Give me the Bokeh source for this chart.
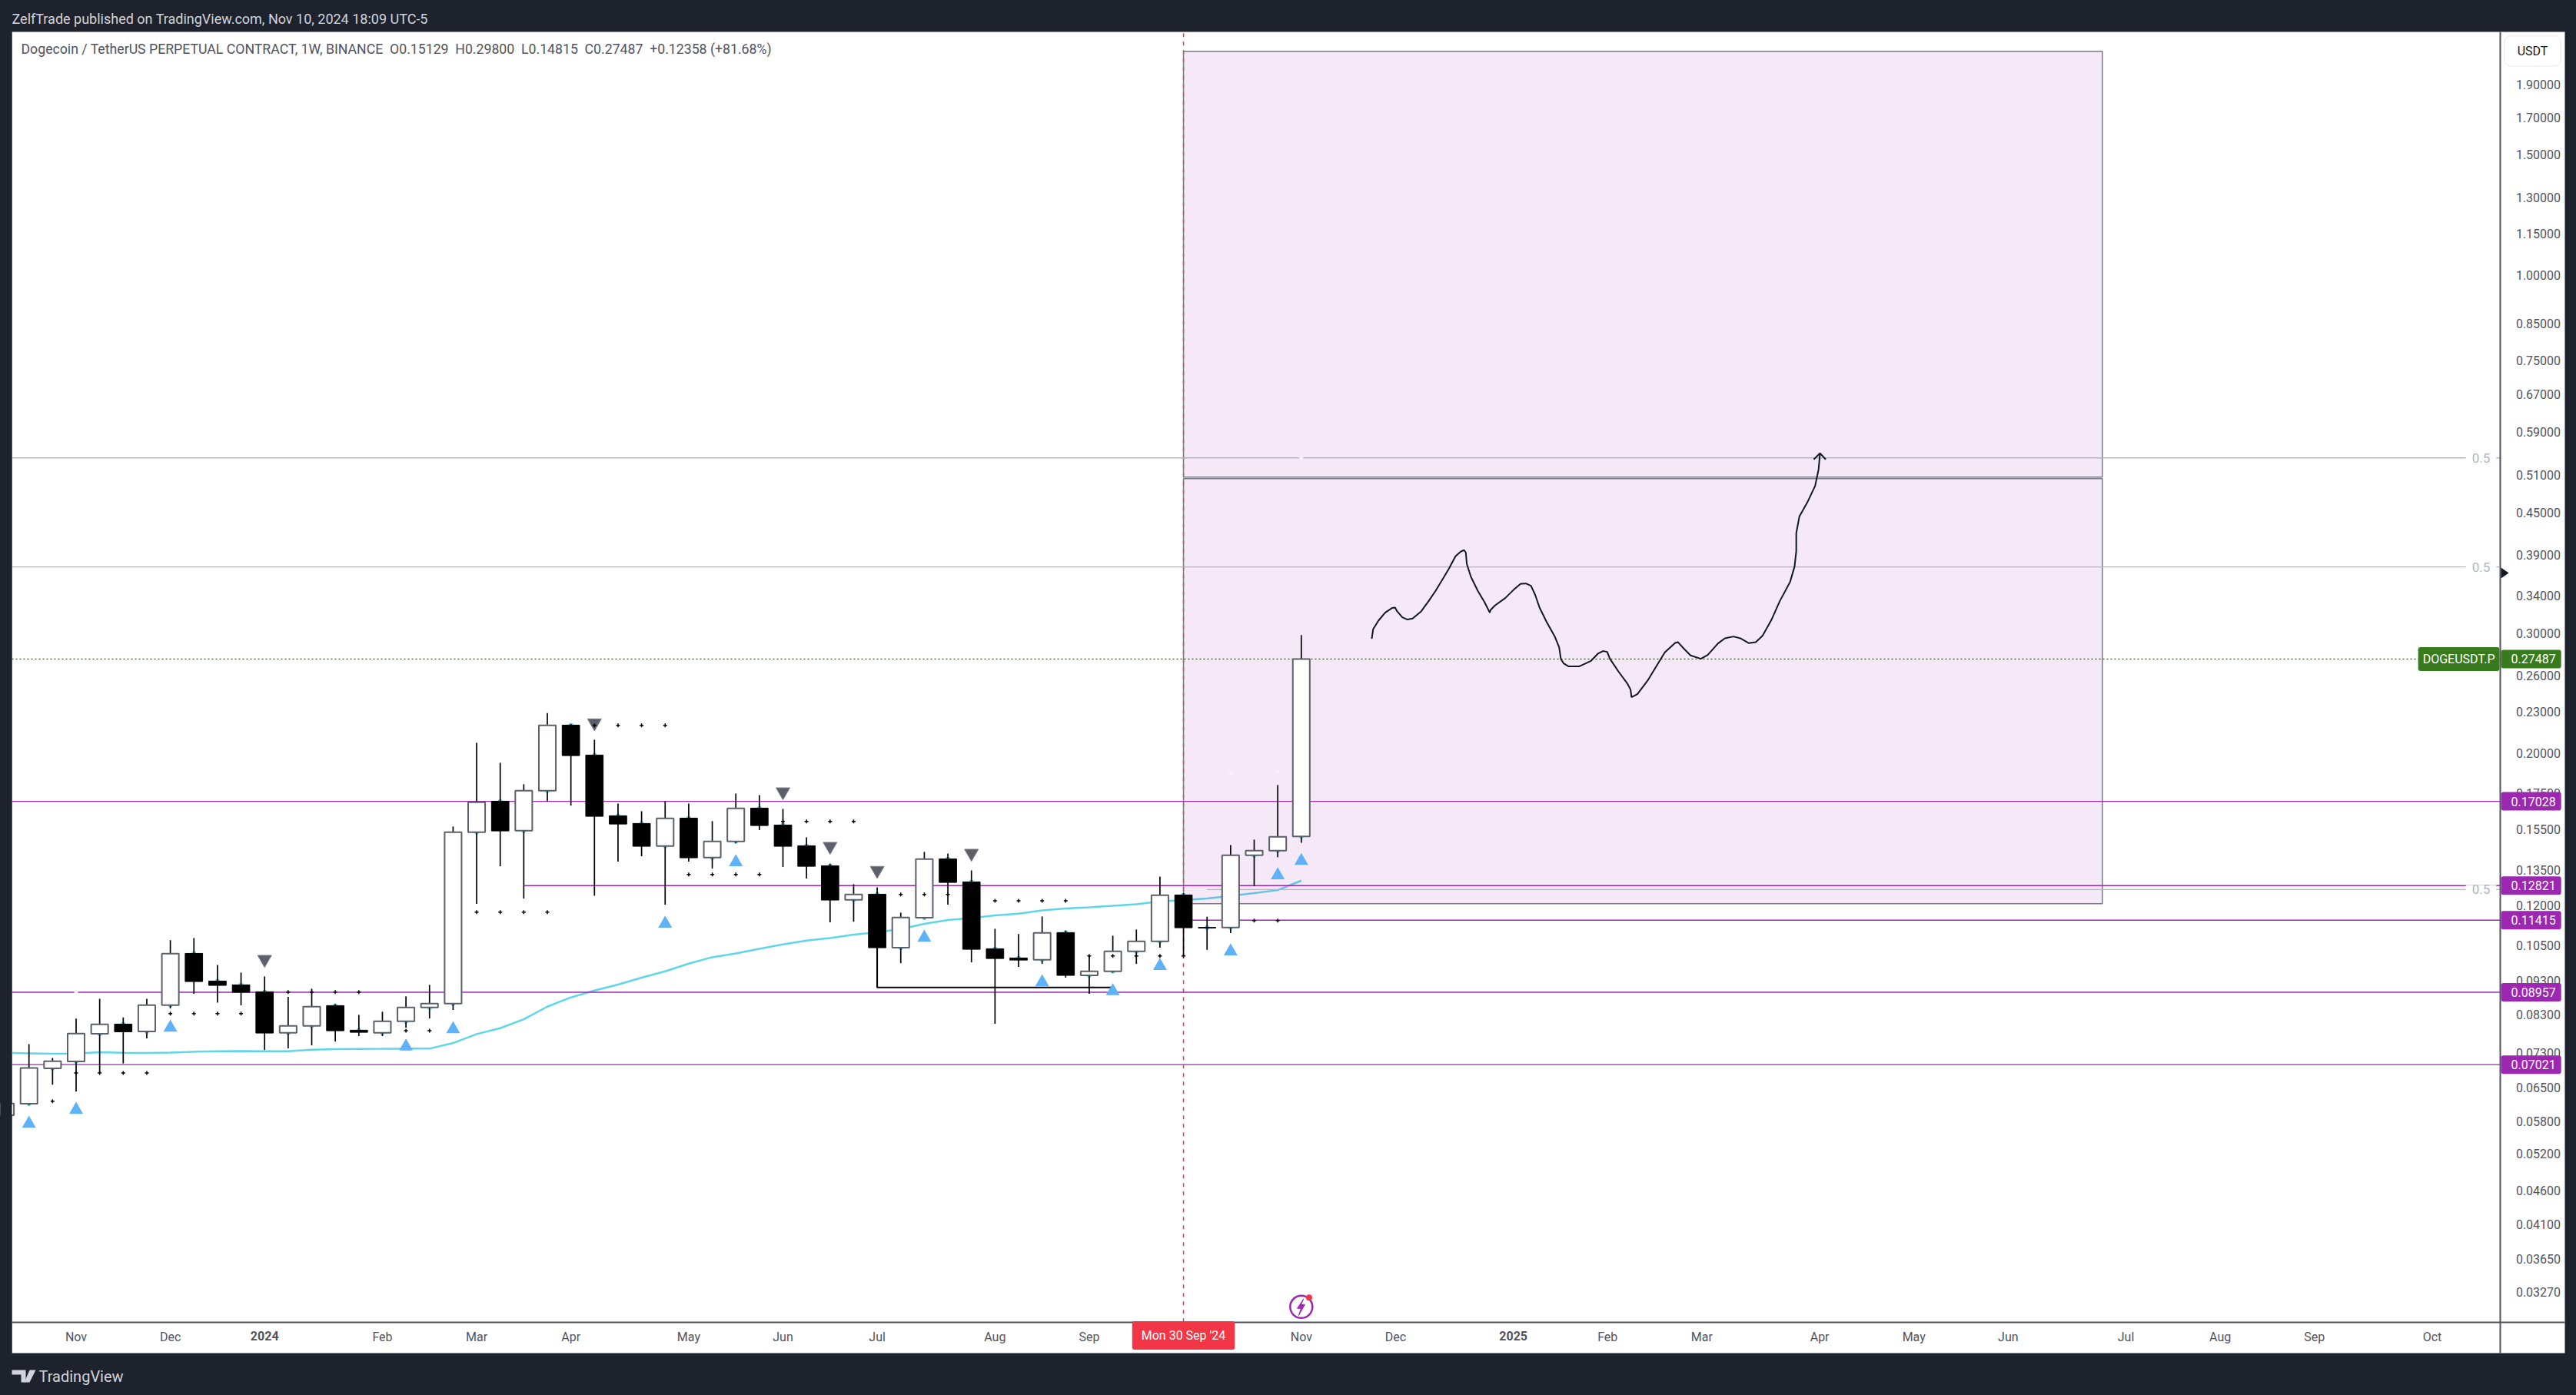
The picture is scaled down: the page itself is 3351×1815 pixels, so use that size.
from bokeh.embed import file_html
from bokeh.resources import INLINE
from bokeh.plotting import figure
from bokeh.models import (Range1d, FixedTicker, PrintfTickFormatter, Label, BoxAnnotation,
                          PolyAnnotation, GlobalInlineStyleSheet)

# ---------- data ----------
week = list(range(-1, 55))
opens = [.0592,.06156,.06932,.07096,.07788,.08047,.07849,.08578,.10208,.09301,.09182,.08971,.07815,.07999,.08563,.07883,.07815,.08124,.08511,.08622,.15347,.17035,.15427,.17648,.22006,.19896,.16220,.15805,.14650,.16093,.14093,.14880,.16643,.15723,.14663,.13709,.12224,.12458,.10404,.11508,.14031,.12985,.10368,.10052,.09990,.10949,.09480,.09610,.10279,.10631,.12426,.1114,.11139,.14203,.14426,.15129]
highs = [.0616,.07524,.07182,.08195,.08764,.08230,.08764,.10669,.10751,.09820,.09569,.09447,.08817,.09064,.08607,.08301,.08388,.08833,.09182,.15642,.20733,.19387,.18033,.22917,.22083,.20950,.16905,.16473,.17021,.16905,.15927,.17480,.17392,.16600,.15084,.13804,.12884,.12751,.11709,.14363,.14289,.13497,.11090,.10892,.11559,.11023,.10138,.10835,.11062,.13222,.12501,.11549,.14699,.14969,.17986,.29800]
lows = [.0592,.06129,.06561,.06410,.06825,.07053,.07669,.08482,.08910,.08652,.08570,.07376,.07414,.07491,.07589,.07728,.07728,.07951,.08202,.08439,.12057,.13685,.12277,.17021,.16788,.12393,.13899,.14154,.12026,.13899,.13578,.14788,.15455,.13651,.13131,.11332,.11358,.09103,.09879,.11468,.12026,.09905,.08054,.09753,.09854,.09407,.08910,.09569,.09854,.10404,.10121,.10332,.10929,.12806,.14109,.14815]
closes = [.0616,.06944,.07102,.07795,.08040,.07842,.08578,.10200,.09286,.09167,.08956,.07808,.07999,.08533,.07869,.07828,.08124,.08511,.08622,.15347,.16978,.15415,.17648,.21988,.19861,.16190,.15776,.14638,.16079,.14081,.14880,.16629,.15696,.14638,.13685,.12214,.12447,.10404,.11518,.14019,.12962,.10350,.10034,.09982,.10938,.09480,.09610,.10279,.10631,.12415,.11128,.1112,.14203,.14426,.15111,.27487]

ema_week = list(range(-1, 55))
ema = [.07306,.07294,.07281,.07287,.07319,.07306,.07300,.07313,.07332,.07344,.07351,.07344,.07344,.07383,.07395,.07402,.07405,.07409,.07409,.07550,.07782,.07937,.08178,.08533,.08803,.09010,.09191,.09407,.09610,.09862,.10078,.10208,.10368,.10522,.10659,.10751,.10873,.10960,.11082,.11274,.11419,.11498,.11597,.11668,.11800,.11872,.11923,.11984,.12045,.12161,.12214,.12277,.12383,.12501,.12630,.13041]

up_week = [0,2,6,16,18,27,30,38,43,46,48,51,53,54]
up_price = [.05756,.06031,.07952,.07461,.07911,.11282,.13877,.10762,.09264,.08988,.09788,.10281,.13281,.13937]
down_week = [10,24,32,34,36,40]
down_price = [.10006,.22172,.17582,.14634,.13496,.14298]

dot_week = [1,2,3,4,5,6,7,8,9,11,12,13,14,16,17,19,20,21,22,24,25,26,27,28,29,30,31,32,33,34,35,36,37,38,39,41,42,43,44,45,46,47,48,49,52,53]
dot_price = [.06208,.06825,.06825,.06825,.06825,.08337,.08337,.08337,.08337,.08963,.08963,.08963,.08963,.07869,.07869,.11729,.11729,.11729,.11729,.21988,.21988,.21988,.21988,.13313,.13313,.13313,.13313,.15913,.15913,.15913,.15913,.12447,.12447,.12447,.12447,.12182,.12182,.12182,.12182,.10121,.10121,.10121,.10121,.10121,.11401,.11401]

pale_week = [2,51,53,54]
pale_price = [.08957,.18730,.18828,.54079]

drawn_week = [56.990,57.048,57.267,57.558,57.849,57.980,58.068,58.286,58.505,58.723,59.087,59.379,59.699,59.961,60.253,60.544,60.762,60.908,60.981,61.025,61.199,61.491,61.782,62.000,62.030,62.219,62.656,63.020,63.311,63.530,63.748,63.923,64.112,64.404,64.768,64.943,65.015,65.132,65.351,65.788,66.297,66.589,66.807,66.982,67.098,67.462,67.827,67.973,68.016,68.264,68.700,69.065,69.429,69.866,69.982,70.230,70.521,70.958,71.250,71.686,71.978,72.342,72.633,72.998,73.289,73.580,73.944,74.308,74.745,74.935,75.007,75.007,75.138,75.474,75.809,75.955,76.013]
drawn_price = [.29424,.30379,.31257,.32129,.32633,.32686,.32269,.31633,.31391,.31498,.32269,.33312,.34573,.35781,.37199,.38836,.39449,.39650,.39344,.37846,.36248,.34573,.33256,.32129,.32408,.32916,.33746,.34721,.35412,.35443,.35173,.34127,.32686,.31176,.29602,.28600,.27509,.27087,.26809,.26809,.27319,.27988,.28232,.28157,.27509,.26350,.25347,.24807,.24174,.24424,.25568,.26809,.28110,.29019,.29097,.28475,.27821,.27509,.27869,.28972,.29474,.29653,.29474,.28995,.29097,.2973,.31309,.33400,.35627,.37522,.39512,.41971,.44390,.46541,.49229,.52063,.54824]
head_week = [75.750,76.013,76.260]
head_price = [.53797,.54925,.53797]

level_full = [.17028,.08957,.07021]
level_partial = [.12821,.11415]
level_partial_start = [21,49]
half_levels = [.54079,.37463,.12654]
half_start = [-0.724,-0.724,50]
last_price = .27487
box_left, box_right = 49, 88
box_top, box_mid_hi, box_mid_lo, box_bottom = 2.1240, .50697, .50436, .12069
bracket_weeks = [36, 46]
bracket_price = .09103

price_ticks = [1.9,1.7,1.5,1.3,1.15,1.0,.85,.75,.67,.59,.51,.45,.39,.34,.30,.26,.23,.20,.175,.155,.135,.12,.105,.093,.083,.073,.065,.058,.052,.046,.041,.0365,.0327]
month_ticks = {2:"Nov",6:"Dec",15:"Feb",19:"Mar",23:"Apr",28:"May",32:"Jun",36:"Jul",41:"Aug",45:"Sep",54:"Nov",58:"Dec",67:"Feb",71:"Mar",76:"Apr",80:"May",84:"Jun",89:"Jul",93:"Aug",97:"Sep",102:"Oct"}
year_ticks = {10:"2024",63:"2025"}
tag_prices = ["0.17028","0.12821","0.11415","0.08957","0.07021"]

NB = "\u00a0\u00a0"
TITLE = "ZelfTrade published on TradingView.com, Nov 10, 2024 18:09 UTC-5"
LEGEND = f"Dogecoin / TetherUS PERPETUAL CONTRACT, 1W, BINANCE{NB}O0.15129{NB}H0.29800{NB}L0.14815{NB}C0.27487{NB}+0.12358 (+81.68%)"

# ---------- layout ----------
W, H = 3351, 1815
DARK = "#1e222d"
FONT = "Roboto"
PURPLE = "#9c27b0"
GREY = "#50535e"
# chart window: week index and price at its edges
X_MIN, X_MAX, X_PANEL = -0.724, 104.9, 107.63
P_MIN, P_MAX, P_PANEL = 0.02951, 2.2676, 0.02661

p = figure(width=W, height=H, output_backend="svg", toolbar_location=None,
           x_range=Range1d(-1.2137, 108.117), y_range=Range1d(0.02307, 2.5213),
           y_axis_type="log", x_axis_location="below", y_axis_location="right",
           min_border=0, background_fill_color=DARK, border_fill_color=DARK, outline_line_color=None)
p.stylesheets = [GlobalInlineStyleSheet(css="html,body{margin:0!important;padding:0;background:#1e222d;overflow:hidden}")]
p.grid.visible = False

sx = lambda px: px
sy = lambda py: H - py

def panel(l, t, r, b, color="white", line="#9598a1", level="underlay"):
    p.add_layout(BoxAnnotation(left=sx(l), right=sx(r), top=sy(t), bottom=sy(b),
                               left_units="screen", right_units="screen", top_units="screen", bottom_units="screen",
                               fill_color=color, fill_alpha=1, line_color=line, line_width=1, level=level))
panel(15, 41, 3336, 1760)

def lab(px, py, text, size=16, color=GREY, align="left", style="normal", **kw):
    p.add_layout(Label(x=sx(px), y=sy(py), x_units="screen", y_units="screen", text=text,
                       text_font=FONT, text_font_size=f"{size}px", text_color=color, text_align=align,
                       text_baseline="middle", text_font_style=style, **kw))

yax = p.yaxis[0]
yax.fixed_location = X_MAX
yax.bounds = (P_PANEL, P_MAX)
yax.ticker = FixedTicker(ticks=price_ticks)
yax.formatter = PrintfTickFormatter(format="%.5f")
yax.major_tick_line_color = None
yax.minor_tick_line_color = None
yax.axis_line_color = GREY
yax.axis_line_width = 2
yax.major_label_standoff = 14
yax.major_label_text_font = FONT
yax.major_label_text_font_size = "16px"
yax.major_label_text_color = GREY

xax = p.xaxis[0]
xax.fixed_location = P_MIN
xax.bounds = (X_MIN, X_PANEL)
xax.ticker = FixedTicker(ticks=list(month_ticks))
xax.major_label_overrides = month_ticks
xax.major_tick_line_color = None
xax.minor_tick_line_color = None
xax.axis_line_color = GREY
xax.axis_line_width = 2
xax.major_label_standoff = 4
xax.major_label_text_font = FONT
xax.major_label_text_font_size = "16px"
xax.major_label_text_color = GREY

# ---------- marks ----------
p.line(ema_week, ema, line_color="#5fd6e8", line_width=2.5)
p.segment(x0=[49], x1=[49], y0=[P_MIN], y1=[P_MAX], line_color="#f23645", line_width=1.5, line_dash="5 6")
p.quad(left=[box_left]*2, right=[box_right]*2, top=[box_top, box_mid_lo], bottom=[box_mid_hi, box_bottom],
       fill_color=PURPLE, fill_alpha=0.1, line_color="#787b86", line_width=1.5)

p.segment(x0=half_start, x1=[X_MAX]*3, y0=half_levels, y1=half_levels, line_color="#b2b5be", line_width=1.3)
p.segment(x0=[X_MIN]*3, x1=[X_MAX]*3, y0=level_full, y1=level_full, line_color=PURPLE, line_width=1.4)
p.segment(x0=level_partial_start, x1=[X_MAX]*2, y0=level_partial, y1=level_partial, line_color=PURPLE, line_width=1.4)
p.segment(x0=[X_MIN], x1=[X_MAX], y0=[last_price], y1=[last_price], line_color="#387a1e", line_width=1.5, line_dash="2 3")
p.line(x=[bracket_weeks[0], bracket_weeks[0], bracket_weeks[1]],
       y=[closes[week.index(36)], bracket_price, bracket_price], line_color="black", line_width=2)

p.scatter(week, opens, marker="circle", size=6, fill_color="#5fd6e8", line_color=None)
p.segment(x0=week, x1=week, y0=lows, y1=highs, line_color="black", line_width=1.7)
uw = [i for i, o, c in zip(week, opens, closes) if c >= o]
ut = [c for o, c in zip(opens, closes) if c >= o]
ub = [o for o, c in zip(opens, closes) if c >= o]
dw = [i for i, o, c in zip(week, opens, closes) if c < o]
dt = [o for o, c in zip(opens, closes) if c < o]
db = [c for o, c in zip(opens, closes) if c < o]
p.vbar(x=uw, width=0.72, top=ut, bottom=ub, fill_color="white", line_color="#5d606b", line_width=2)
p.vbar(x=dw, width=0.74, top=dt, bottom=db, fill_color="black", line_color="black", line_width=1)

p.scatter(up_week, up_price, marker="triangle", size=18, fill_color="#5fb2f7", line_color=None)
p.scatter(down_week, down_price, marker="inverted_triangle", size=18, fill_color="#5d606b", line_color="#7a7d88", line_width=1)
p.scatter(dot_week, dot_price, marker="cross", size=5, line_color="black", line_width=1.5)
p.scatter(pale_week, pale_price, marker="circle", size=5, fill_color="#f7f0fa", line_color=None)

p.line(drawn_week, drawn_price, line_color="#131722", line_width=2)
p.line(head_week, head_price, line_color="#131722", line_width=2)

# circled bolt icon on the time axis
p.scatter([54], [.03108], marker="circle", size=29, fill_color=None, line_color=PURPLE, line_width=2.5)
p.patch([54.09,53.83,53.99,53.89,54.15,53.99], [.03189,.03092,.03092,.03020,.03132,.03132], fill_color=PURPLE, line_color=PURPLE)
p.scatter([54.33], [.03206], marker="circle", size=8, fill_color="#f23645", line_color=None)

# left strip hides the part of the first, cut-off candle that lies outside the window
panel(0, 0, 15, H, color=DARK, line=None, level="annotation")

# ---------- texts ----------
lab(15, 24, TITLE, size=18, color="#d1d4dc")
lab(27, 63, LEGEND, size=17.7, color=GREY)
lab(3294, 66, "USDT", size=16, color="#131722", align="center", background_fill_color="white",
    border_line_color="#e8e8ee", padding=(17, 10), border_radius=8)
lab(50, 1790, "TradingView", size=20, color="#d1d4dc")

for yr, txt in year_ticks.items():
    p.add_layout(Label(x=yr, y=sy(1737), x_units="data", y_units="screen", text=txt, text_font=FONT, text_font_size="16px",
                       text_font_style="bold", text_color=GREY, text_align="center", text_baseline="middle"))
p.add_layout(Label(x=49, y=sy(1737), x_units="data", y_units="screen", text="Mon 30 Sep '24", text_font=FONT,
                   text_font_size="16px", text_color="white", text_align="center", text_baseline="middle",
                   background_fill_color="#f23645", padding=(12, 9), border_radius=3))

for lv in half_levels:
    p.add_layout(Label(x=sx(3227), x_units="screen", y=lv, y_units="data", text="0.5", text_font=FONT,
                       text_font_size="17px", text_color="#b2b5be", text_align="center", text_baseline="middle",
                       background_fill_color="white", padding=(8, 0)))

for txt in tag_prices:
    p.add_layout(Label(x=sx(3253), x_units="screen", y=float(txt), y_units="data", text=txt, text_font=FONT,
                       text_font_size="16px", text_color="white", text_align="left", text_baseline="middle",
                       background_fill_color=PURPLE, padding=(13, 7, 6, 6), border_radius=3))
p.add_layout(Label(x=sx(3253), x_units="screen", y=last_price, y_units="data", text=f"{last_price:.5f}", text_font=FONT,
                   text_font_size="16px", text_color="white", text_align="left", text_baseline="middle",
                   background_fill_color="#387a1e", padding=(13, 7, 6, 6), border_radius=3))
p.add_layout(Label(x=sx(3251), x_units="screen", y=last_price, y_units="data", text="DOGEUSDT.P", text_font=FONT,
                   text_font_size="16px", text_color="white", text_align="right", text_baseline="middle",
                   background_fill_color="#387a1e", padding=(6, 6), border_radius=3))

# price-axis pointer and logo
def poly(xs, ys, color):
    p.add_layout(PolyAnnotation(xs=[sx(v) for v in xs], ys=[sy(v) for v in ys], xs_units="screen", ys_units="screen",
                                fill_color=color, fill_alpha=1, line_color=None))
poly([3253, 3263, 3253], [738, 745, 752], "#131722")
poly([15,33,33,27,27,15], [1782,1782,1798,1798,1788,1788], "#d1d4dc")
poly([38,46,38,31], [1782,1782,1798,1798], "#d1d4dc")

open("out.html", "w").write(file_html(p, INLINE))
